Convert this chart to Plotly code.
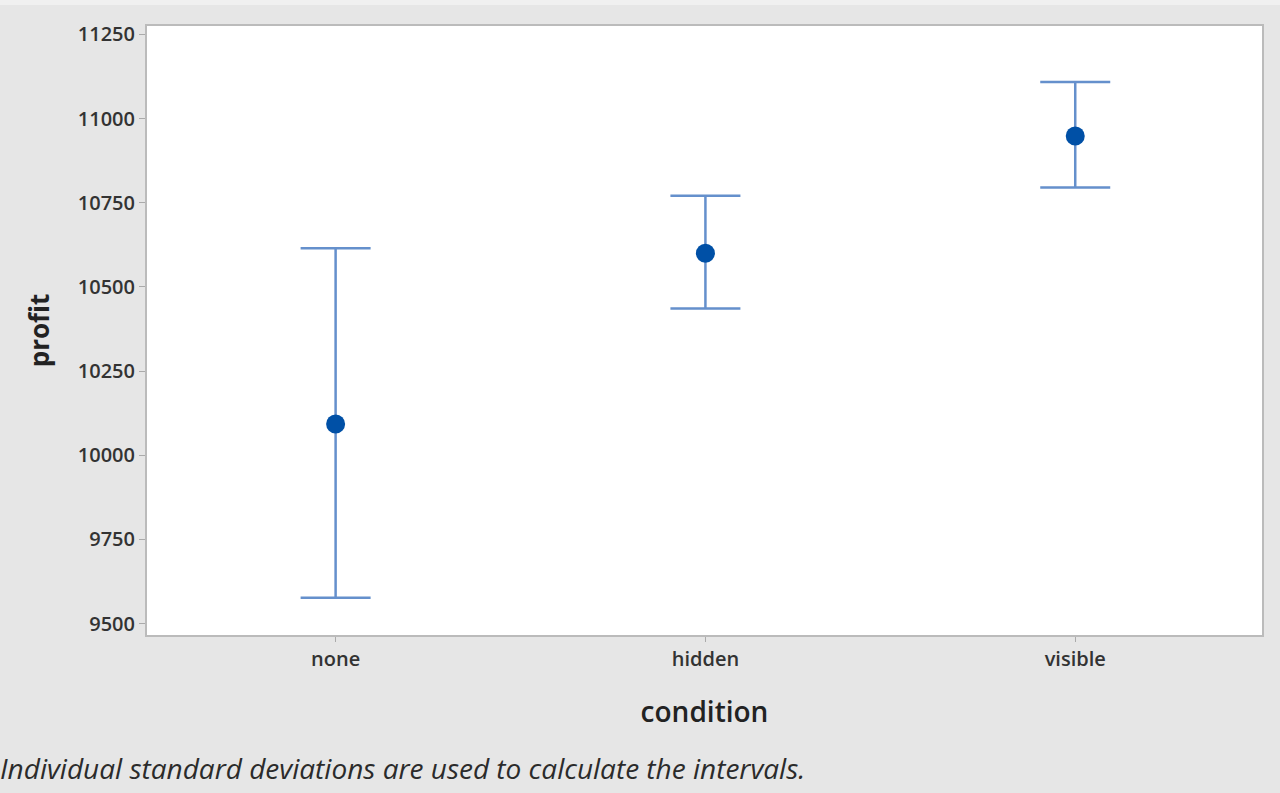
import plotly.graph_objects as go

conditions = ["none", "hidden", "visible"]
means = [10093, 10600, 10948]
upper = [10615, 10771, 11109]
lower = [9577, 10436, 10795]

y_tick_values = [9500, 9750, 10000, 10250, 10500, 10750, 11000, 11250]
y_tick_labels = ["9500", "9750", "10000", "10250", "10500", "10750", "11000", "11250"]

err_plus = [u - m for u, m in zip(upper, means)]
err_minus = [m - l for m, l in zip(means, lower)]

FONT = "Open Sans, Noto Sans, sans-serif"

fig = go.Figure()
fig.add_trace(go.Scatter(
    x=conditions, y=means, mode="markers",
    marker=dict(symbol="circle", size=19, color="#0050A6"),
    error_y=dict(type="data", symmetric=False, array=err_plus, arrayminus=err_minus,
                 color="#6590CC", thickness=2.5, width=35),
    showlegend=False,
))

PW, PH = 1115, 609

fig.update_layout(
    width=1280, height=793,
    paper_bgcolor="#E6E6E6", plot_bgcolor="#FFFFFF",
    margin=dict(l=147, r=18, t=26, b=158),
    font=dict(family=FONT, color="#333333"),
    xaxis=dict(
        title=dict(text="condition", font=dict(size=28, color="#222222", weight=600), standoff=31),
        range=[-0.51, 2.505], showgrid=False, zeroline=False,
        showline=True, linecolor="#BBBBBB", linewidth=2, mirror=True,
        ticks="outside", ticklen=5, tickcolor="#AAAAAA",
        tickfont=dict(size=20, color="#333333", weight=600),
    ),
    yaxis=dict(
        title=dict(text="profit", font=dict(size=26, color="#222222", weight=700), standoff=21),
        range=[9466, 11275], tickvals=y_tick_values, ticktext=y_tick_labels,
        showgrid=False, zeroline=False,
        showline=True, linecolor="#BBBBBB", linewidth=2, mirror=True,
        ticks="outside", ticklen=6, tickcolor="#AAAAAA",
        tickfont=dict(size=20, color="#333333", weight=600),
    ),
    shapes=[dict(type="rect", xref="paper", yref="paper",
                 x0=-147 / PW, x1=1 + 18 / PW, y0=1 + 21 / PH, y1=1 + 26 / PH,
                 fillcolor="#F0F0F0", line=dict(width=0), layer="below")],
)

fig.add_annotation(
    text="<i>Individual standard deviations are used to calculate the intervals.</i>",
    xref="paper", yref="paper", x=-149 / PW, y=-133 / PH, xanchor="left", yanchor="middle",
    showarrow=False, font=dict(family=FONT, size=28, color="#2B2B2B"),
)

fig.write_html(
    "out.html",
    config={"displayModeBar": False},
    post_script="document.body.style.margin='0';document.body.style.background='#E6E6E6';",
)
